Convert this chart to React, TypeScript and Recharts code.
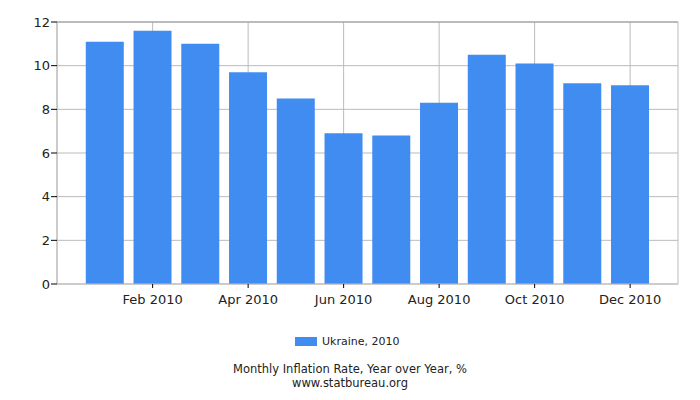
import { BarChart, Bar, XAxis, YAxis, CartesianGrid, Legend, ReferenceLine } from 'recharts';

const months = [
  'Jan 2010', 'Feb 2010', 'Mar 2010', 'Apr 2010', 'May 2010', 'Jun 2010',
  'Jul 2010', 'Aug 2010', 'Sep 2010', 'Oct 2010', 'Nov 2010', 'Dec 2010',
];
const ukraine2010 = [11.1, 11.6, 11.0, 9.7, 8.5, 6.9, 6.8, 8.3, 10.5, 10.1, 9.2, 9.1];
const xTicks = ['Feb 2010', 'Apr 2010', 'Jun 2010', 'Aug 2010', 'Oct 2010', 'Dec 2010'];
const yTicks = [0, 2, 4, 6, 8, 10, 12];

const data = months.map((m, i) => ({ month: m, value: ukraine2010[i] }));

const FONT = '"DejaVu Sans", Verdana, sans-serif';
const BAR_COLOR = '#418cf0';

const LegendBlock = () => (
  <div style={{ position: 'relative', width: 700, height: 80, fontFamily: FONT, color: '#222' }}>
    <div style={{ position: 'absolute', top: 21, left: 295, display: 'flex', alignItems: 'center', fontSize: 11 }}>
      <span style={{ display: 'inline-block', width: 22, height: 9, background: BAR_COLOR, marginRight: 5 }} />
      <span>Ukraine, 2010</span>
    </div>
    <div style={{ position: 'absolute', top: 49, left: 0, width: 700, textAlign: 'center', fontSize: 11.5, lineHeight: '13.5px' }}>
      <div>Monthly Inflation Rate, Year over Year, %</div>
      <div>www.statbureau.org</div>
    </div>
  </div>
);

const App = () => {
  return (
    <div style={{ position: 'absolute', left: 0, top: 0, background: '#fff' }}>
      <BarChart
        width={700}
        height={400}
        data={data}
        margin={{ top: 22, right: 22, left: 0, bottom: 6 }}
        barCategoryGap="10%"
      >
        <CartesianGrid stroke="#bbb" strokeWidth={1} />
        <XAxis
          dataKey="month"
          ticks={xTicks}
          padding={{ left: 24, right: 24 }}
          height={30}
          tickSize={4}
          tickMargin={7}
          axisLine={{ stroke: '#bbb' }}
          tickLine={{ stroke: '#000' }}
          tick={{ fill: '#222', fontSize: 13, fontFamily: FONT }}
        />
        <YAxis
          domain={[0, 12]}
          ticks={yTicks}
          width={57}
          tickSize={6}
          tickMargin={1}
          axisLine={{ stroke: '#bbb' }}
          tickLine={{ stroke: '#000' }}
          tick={{ fill: '#222', fontSize: 13, fontFamily: FONT }}
        />
        <YAxis
          yAxisId="right"
          orientation="right"
          domain={[0, 12]}
          width={0}
          tick={false}
          tickLine={false}
          axisLine={{ stroke: '#bbb' }}
        />
        <ReferenceLine y={12} stroke="#999" />
        <Legend verticalAlign="bottom" content={() => <LegendBlock />} />
        <Bar dataKey="value" name="Ukraine, 2010" fill={BAR_COLOR} isAnimationActive={false} />
      </BarChart>
    </div>
  );
};

export default App;
